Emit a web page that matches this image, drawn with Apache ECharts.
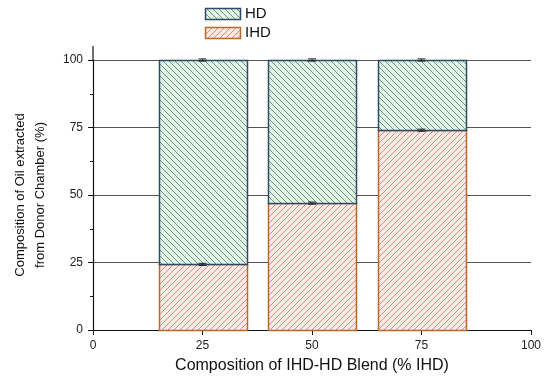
<!DOCTYPE html>
<html><head><meta charset="utf-8">
<script src="https://cdn.jsdelivr.net/npm/echarts@6/dist/echarts.min.js"></script>
<style>html,body{margin:0;padding:0;background:#fff}#c{width:550px;height:380px}</style>
</head><body><div id="c"></div>
<script>
// ---- data ----
const categories = [25, 50, 75];          // % IHD in blend (bar centres)
const ihdValues  = [24.3, 47.0, 74.0];    // IHD share (%)
const hdValues   = [75.7, 53.0, 26.0];    // HD share (%)
const ihdErr     = [0.4, 0.4, 0.4];
const hdErr      = [0.4, 0.4, 0.4];
const xTickLabels = ['0', '25', '50', '75', '100'];
const yTickLabels = ['0', '25', '50', '75', '100'];
const seriesNames = ['HD', 'IHD'];
const barSpan = 20; // bar width in x-axis units

// ---- styles ----
const HD_BG = '#e3f5e8', HD_LINE = '#62996e', HD_EDGE = '#2e4a68';
const IHD_BG = '#fde9e6', IHD_LINE = '#e2877a', IHD_EDGE = '#b86a2a';
const FONT = 'Liberation Sans, Arial, sans-serif';

function hatch(bg, line, dir) {
  const s = 6;
  const c = document.createElement('canvas'); c.width = s; c.height = s;
  const g = c.getContext('2d');
  g.fillStyle = bg; g.fillRect(0, 0, s, s);
  g.strokeStyle = line; g.lineWidth = 1;
  g.beginPath();
  if (dir > 0) { // '/'
    g.moveTo(-1, s + 1); g.lineTo(s + 1, -1);
    g.moveTo(-1, 1); g.lineTo(1, -1);
    g.moveTo(s - 1, s + 1); g.lineTo(s + 1, s - 1);
  } else {       // '\'
    g.moveTo(-1, -1); g.lineTo(s + 1, s + 1);
    g.moveTo(-1, s - 1); g.lineTo(1, s + 1);
    g.moveTo(s - 1, -1); g.lineTo(s + 1, 1);
  }
  g.stroke();
  return { image: c, repeat: 'repeat' };
}
const hdFill = hatch(HD_BG, HD_LINE, -1);
const ihdFill = hatch(IHD_BG, IHD_LINE, 1);

const ihdData = categories.map((x, i) => [x, 0, ihdValues[i], ihdErr[i]]);
const hdData = categories.map((x, i) => [x, ihdValues[i], ihdValues[i] + hdValues[i], hdErr[i]]);
const errData = ihdData.concat(hdData).map(d => [d[0], d[2], d[3]]);

function segRender(fill, edge) {
  return function (params, api) {
    const x = api.value(0), b = api.value(1), t = api.value(2);
    const w = api.size([barSpan, 0])[0];
    const p0 = api.coord([x, b]), p1 = api.coord([x, t]);
    return {
      type: 'rect',
      shape: { x: Math.round(p0[0] - w / 2) + 0.5, y: Math.round(p1[1]) + 0.5, width: Math.round(w), height: Math.round(p0[1]) - Math.round(p1[1]) },
      style: { fill: fill, stroke: edge, lineWidth: 1.5 }
    };
  };
}
function errRender(params, api) {
  const x = api.value(0), t = api.value(1), e = api.value(2);
  const a = api.coord([x, t + e]), b = api.coord([x, t - e]);
  const st = { stroke: '#222', lineWidth: 1 };
  return {
    type: 'group', children: [
      { type: 'line', shape: { x1: a[0], y1: a[1], x2: b[0], y2: b[1] }, style: st },
      { type: 'line', shape: { x1: a[0] - 4, y1: a[1], x2: a[0] + 4, y2: a[1] }, style: st },
      { type: 'line', shape: { x1: b[0] - 4, y1: b[1], x2: b[0] + 4, y2: b[1] }, style: st }
    ]
  };
}

const chart = echarts.init(document.getElementById('c'), null, { renderer: 'canvas' });
chart.setOption({
  animation: false,
  backgroundColor: '#fff',
  textStyle: { fontFamily: FONT },
  grid: { left: 93, right: 19, top: 60, bottom: 50 },
  xAxis: {
    type: 'value', min: 0, max: 100, interval: 25,
    name: 'Composition of IHD-HD Blend (% IHD)', nameLocation: 'middle', nameGap: 28,
    nameTextStyle: { fontSize: 16, color: '#111', fontFamily: FONT },
    axisLine: { show: true, lineStyle: { color: '#111', width: 1.2 } },
    axisTick: { show: true, inside: false, length: 5, lineStyle: { color: '#111' } },
    axisLabel: { fontSize: 12, color: '#222', margin: 10, fontFamily: FONT, formatter: (v) => xTickLabels[Math.round(v / 25)] },
    splitLine: { show: false }
  },
  yAxis: {
    type: 'value', min: 0, max: 100, interval: 25,
    name: 'Composition of Oil extracted\nfrom Donor Chamber (%)', nameLocation: 'middle', nameGap: 43,
    nameTextStyle: { fontSize: 13, color: '#111', fontFamily: FONT, lineHeight: 20 },
    axisLine: { show: true, lineStyle: { color: '#111', width: 1.2 } },
    axisTick: { show: true, inside: false, length: 5, lineStyle: { color: '#111' } },
    minorTick: { show: true, splitNumber: 2, length: 3, lineStyle: { color: '#111' } },
    axisLabel: { fontSize: 12, color: '#222', margin: 10, fontFamily: FONT, formatter: (v) => yTickLabels[Math.round(v / 25)] },
    splitLine: { show: true, lineStyle: { color: '#555', width: 1 } }
  },
  graphic: [
    { type: 'line', shape: { x1: 93, y1: 46, x2: 93, y2: 60 }, style: { stroke: '#111', lineWidth: 1.2 } },
    { type: 'rect', shape: { x: 205.5, y: 8.5, width: 35, height: 11 }, style: { fill: hdFill, stroke: HD_EDGE, lineWidth: 1.5 } },
    { type: 'text', x: 245, y: 14, style: { text: seriesNames[0], fill: '#111', font: '15px ' + FONT, verticalAlign: 'middle' } },
    { type: 'rect', shape: { x: 205.5, y: 27.5, width: 35, height: 11 }, style: { fill: ihdFill, stroke: IHD_EDGE, lineWidth: 1.5 } },
    { type: 'text', x: 245, y: 33, style: { text: seriesNames[1], fill: '#111', font: '15px ' + FONT, verticalAlign: 'middle' } }
  ],
  series: [
    { name: 'IHD', type: 'custom', renderItem: segRender(ihdFill, IHD_EDGE), data: ihdData, encode: { x: 0, y: [1, 2] }, z: 2 },
    { name: 'HD', type: 'custom', renderItem: segRender(hdFill, HD_EDGE), data: hdData, encode: { x: 0, y: [1, 2] }, z: 3 },
    { name: 'err', type: 'custom', renderItem: errRender, data: errData, encode: { x: 0, y: 1 }, z: 5 }
  ]
});
</script></body></html>
